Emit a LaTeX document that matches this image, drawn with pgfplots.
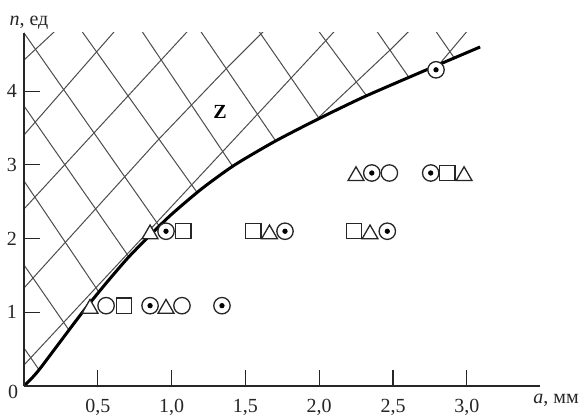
\documentclass[border=0pt]{standalone}
\usepackage{fontspec}
\setmainfont{Liberation Serif}
\usepackage{pgfplots}
\pgfplotsset{compat=1.18}
\begin{document}
\begin{tikzpicture}
\begin{axis}[
  scale only axis, width=258pt, height=176.5pt,
  xmin=0, xmax=3.496, ymin=0, ymax=4.79,
  axis lines*=left,
  axis line style={line width=1.3pt, black!85},
  axis on top,
  clip mode=individual,
  xtick={0.5,1,1.5,2,2.5,3},
  xticklabels={{0,5},{1,0},{1,5},{2,0},{2,5},{3,0}},
  ytick={1,2,3,4}, yticklabels={1,2,3,4},
  tick align=inside, major tick length=8pt,
  tick style={line width=0.6pt, black!85},
  xticklabel style={yshift=-3pt},
  every tick label/.append style={font=\fontsize{10}{12}\selectfont, text=black!85},
  hatch/.style={line width=0.5pt, black!70},
]
% hatching "/" family
\addplot[hatch] coordinates {(0,4.423) (0.30,4.983)};
\addplot[hatch] coordinates {(0,3.406) (0.695,5.0)};
\addplot[hatch] coordinates {(0,2.402) (1.194,5.0)};
\addplot[hatch] coordinates {(0,1.330) (0.908,3.338) (1.375,4.315) (1.717,5.0)};
\addplot[hatch] coordinates {(0,0.285) (1.734,4.016) (2.19,5.0)};
\addplot[hatch] coordinates {(1.8,3.273) (2.480,4.559) (2.70,5.0)};
\addplot[hatch] coordinates {(2.70,4.096) (3.08,5.0)};
% hatching "\" family
\addplot[hatch] coordinates {(-0.07,4.99) (1.710,-0.1)};
\addplot[hatch] coordinates {(0.33,4.986) (2.146,-0.1)};
\addplot[hatch] coordinates {(0.736,5.0) (2.447,-0.1)};
\addplot[hatch] coordinates {(1.136,4.99) (2.5,1.0)};
\addplot[hatch] coordinates {(1.529,4.993) (2.389,2.5)};
\addplot[hatch] coordinates {(1.935,4.979) (2.668,3.0)};
\addplot[hatch] coordinates {(2.328,4.992) (2.846,3.5)};
\addplot[hatch] coordinates {(2.728,4.993) (3.139,3.8)};
\addplot[hatch] coordinates {(-0.05,3.943) (1.354,-0.1)};
\addplot[hatch] coordinates {(-0.05,2.93) (0.970,-0.1)};
\addplot[hatch] coordinates {(-0.05,1.787) (0.601,-0.1)};
\addplot[hatch] coordinates {(-0.05,0.661) (0.212,-0.1)};
% white area below the boundary curve
\addplot[fill=white, draw=none] coordinates {(0,0) (0.05,0.10) (0.11,0.24) (0.29,0.72) (0.40,1.01) (0.55,1.38) (0.70,1.73) (0.85,2.04) (1.00,2.33) (1.20,2.67) (1.42,2.99) (1.70,3.32) (2.00,3.63) (2.30,3.92) (2.68,4.25) (3.09,4.60) (3.45,4.95) (4.0,4.95) (4.0,-0.5) (0,-0.5)};
% boundary curve
\addplot[line width=1.5pt, black, smooth, tension=0.4] coordinates {(0,0) (0.05,0.10) (0.11,0.24) (0.29,0.72) (0.40,1.01) (0.55,1.38) (0.70,1.73) (0.85,2.04) (1.00,2.33) (1.20,2.67) (1.42,2.99) (1.70,3.32) (2.00,3.63) (2.30,3.92) (2.68,4.25) (3.09,4.60)};
% markers
\addplot[only marks, mark=triangle*, mark size=4.6pt, mark options={fill=white, draw=black!85, line width=0.65pt, yshift=-1.5pt}] coordinates {(0.447,1.09) (0.962,1.09) (0.854,2.10) (1.663,2.10) (2.344,2.10) (2.249,2.89) (2.981,2.89)};
\addplot[only marks, mark=square*, mark size=3.8pt, mark options={fill=white, draw=black!85, line width=0.65pt}] coordinates {(0.678,1.09) (1.079,2.10) (1.554,2.10) (2.236,2.10) (2.868,2.89)};
\addplot[only marks, mark=*, mark size=4.1pt, mark options={fill=white, draw=black!85, line width=0.65pt}] coordinates {(0.556,1.09) (1.070,1.09) (2.475,2.89)};
\addplot[only marks, mark=*, mark size=4.1pt, mark options={fill=white, draw=black!85, line width=0.65pt}] coordinates {(0.854,1.09) (1.341,1.09) (0.962,2.10) (1.768,2.10) (2.461,2.10) (2.356,2.89) (2.755,2.89) (2.791,4.29)};
\addplot[only marks, mark=*, mark size=1.1pt, mark options={fill=black, draw=black}] coordinates {(0.854,1.09) (1.341,1.09) (0.962,2.10) (1.768,2.10) (2.461,2.10) (2.356,2.89) (2.755,2.89) (2.791,4.29)};
% labels
\node[font=\bfseries\fontsize{10}{12}\selectfont] at (axis cs:1.328,3.715) {Z};
\node[font=\fontsize{10}{12}\selectfont, text=black!85] at (axis cs:0.034,4.932) {\textit{n}, ед};
\node[font=\fontsize{10}{12}\selectfont, text=black!85] at (axis cs:3.604,-0.19) {\textit{a}, мм};
\node[font=\fontsize{10}{12}\selectfont, text=black!85] at (axis cs:-0.0745,-0.081) {0};
\coordinate (bbll) at (axis cs:-0.1626,-0.407);
\coordinate (bbur) at (axis cs:3.780,5.237);
\end{axis}
\pgfresetboundingbox
\path (bbll) rectangle (bbur);
\end{tikzpicture}
\end{document}
